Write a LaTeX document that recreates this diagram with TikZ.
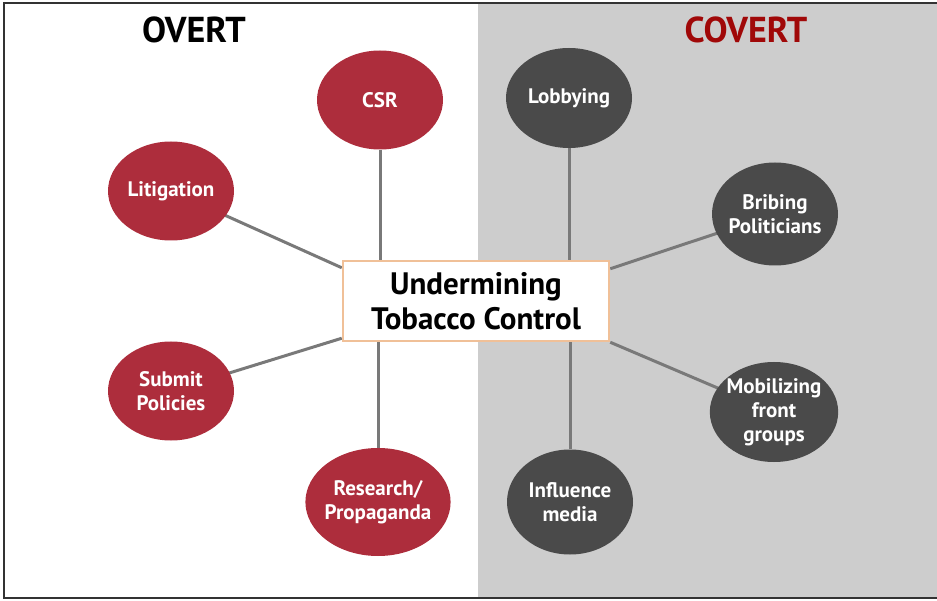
\documentclass[tikz,border=0pt]{standalone}
\usepackage{fontspec}
\setmainfont{PT Sans}
\usepackage{xcolor}
\usetikzlibrary{shapes.geometric,backgrounds,positioning}
\definecolor{overtred}{RGB}{173,45,60}
\definecolor{covertgrey}{RGB}{74,74,74}
\definecolor{covertbg}{RGB}{205,205,205}
\definecolor{boxedge}{RGB}{240,192,152}
\definecolor{titlered}{RGB}{160,8,8}
\tikzset{
  overt/.style={ellipse,fill=overtred,text=white,font=\fontsize{21}{24}\selectfont\bfseries,align=center,inner sep=-2pt,minimum width=126pt,minimum height=99pt},
  covert/.style={ellipse,fill=covertgrey,text=white,font=\fontsize{21}{24}\selectfont\bfseries,align=center,inner sep=-2pt,minimum width=126pt,minimum height=100pt},
  link/.style={draw=gray!95!black,line width=3pt},
  heading/.style={font=\fontsize{36}{40}\selectfont\bfseries}
}
\begin{document}
\begin{tikzpicture}[x=1pt,y=-1pt]
 	\useasboundingbox (0,0) rectangle (937,601);
 	\node[heading] (overt) at (194,30) {OVERT};
 	\node[heading,text=titlered] (covertt) at (746,30) {COVERT};
 	% centre box
 	\node[draw=boxedge,line width=2.5pt,fill=white,minimum width=266pt,minimum height=80pt,align=center,
 	  font=\fontsize{31}{35}\selectfont\bfseries] (ctr) at (476,301) {Undermining\\Tobacco Control};
 	% overt side
 	\node[overt] (csr) at (380,100) {CSR};
 	\node[overt] (lit) at (171,191) {Litigation};
 	\node[overt] (sub) at (171,391) {Submit\\Policies};
 	\node[overt,minimum width=134pt,minimum height=108pt] (res) at (378,502) {Research/\\Propaganda};
 	% covert side
 	\node[covert] (lob) at (569,98) {Lobbying};
 	\node[covert,minimum height=103pt] (bri) at (775,214) {Bribing\\Politicians};
 	\node[covert] (mob) at (774,412) {Mobilizing\\front\\groups};
 	\node[covert,minimum height=105pt] (inf) at (570,502) {Influence\\media};
 	\begin{scope}[on background layer]
 	\fill[covertbg] (478,3) rectangle (937,598);
 	\draw[line width=2pt,black!80] (937,3) -- (4,3) -- (4,598) -- (937,598);
 	\draw[link] (csr) -- (csr |- ctr.north);
 	\draw[link] (res) -- (res |- ctr.south);
 	\draw[link] (lob) -- (lob |- ctr.north);
 	\draw[link] (inf) -- (inf |- ctr.south);
 	\draw[link] (lit.center) -- ([yshift=-8pt]ctr.north west);
 	\draw[link] (sub.center) -- ([yshift=4pt]ctr.south west);
 	\draw[link] (bri.center) -- ([yshift=-9pt]ctr.north east);
 	\draw[link] (mob.center) -- (ctr.south east);
 	\end{scope}
\end{tikzpicture}
\end{document}
